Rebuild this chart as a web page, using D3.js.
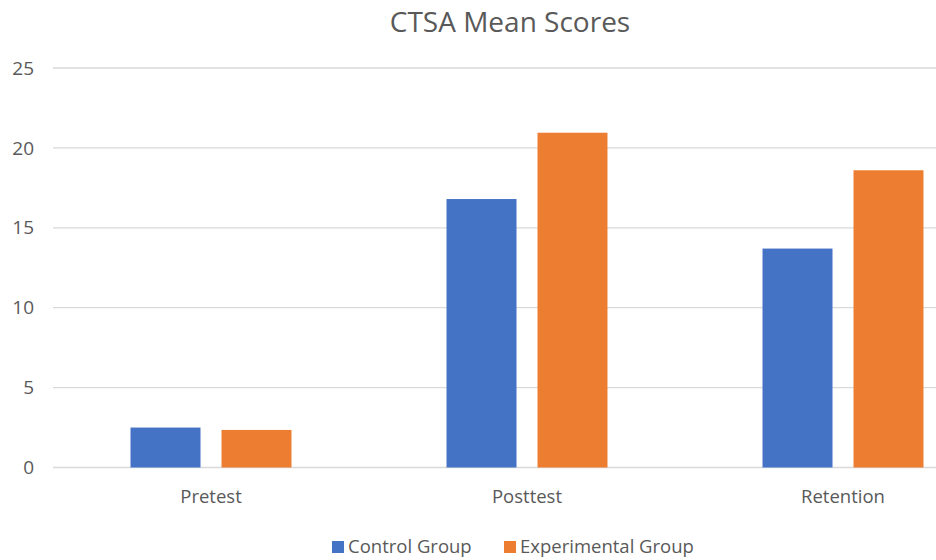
<!DOCTYPE html>
<html>
<head>
<meta charset="utf-8">
<script src="https://cdn.jsdelivr.net/npm/d3@7"></script>
<style>
  body { margin: 0; background: #fff; }
  text { font-family: "Open Sans", sans-serif; fill: #595959; }
</style>
</head>
<body>
<div id="chart-area"></div>
<script>
// chart data
let categories = ["Pretest", "Posttest", "Retention"];
let seriesNames = ["Control Group", "Experimental Group"];
let controlScores = [2.5, 16.8, 13.7];
let experimentalScores = [2.35, 20.95, 18.6];
let yTicks = [0, 5, 10, 15, 20, 25];
let colors = ["#4472C4", "#ED7D31"];

let width = 936,
    height = 560;

let rows = categories.map((c, i) => ({
  category: c,
  values: [
    { name: seriesNames[0], value: controlScores[i] },
    { name: seriesNames[1], value: experimentalScores[i] }
  ]
}));

let svg = d3.select('#chart-area').append('svg')
  .attr('width', width)
  .attr('height', height);

// plot area runs past the right edge of the picture
let x0 = d3.scaleBand()
  .domain(categories)
  .range([53, 1001])
  .padding(0);

let x1 = d3.scaleBand()
  .domain(seriesNames)
  .range([0, x0.bandwidth()])
  .paddingInner(21 / 91)
  .paddingOuter(0.852);

let y = d3.scaleLinear()
  .domain([0, 25])
  .range([467.5, 68]);

let color = d3.scaleOrdinal().domain(seriesNames).range(colors);

// gridlines
svg.append('g')
  .selectAll('line')
  .data(yTicks)
  .enter()
  .append('line')
  .attr('x1', 53)
  .attr('x2', 1001)
  .attr('y1', d => y(d))
  .attr('y2', d => y(d))
  .attr('stroke', '#d9d9d9')
  .attr('stroke-width', 1.3);

// y labels
svg.append('g')
  .selectAll('text')
  .data(yTicks)
  .enter()
  .append('text')
  .attr('x', 34)
  .attr('y', d => y(d))
  .attr('dy', '0.35em')
  .attr('text-anchor', 'end')
  .style('font-size', '19px')
  .text(d => d);

// bars
let groups = svg.append('g')
  .selectAll('g')
  .data(rows)
  .enter()
  .append('g')
  .attr('transform', d => `translate(${x0(d.category)},0)`);

groups.selectAll('rect')
  .data(d => d.values)
  .enter()
  .append('rect')
  .attr('x', d => x1(d.name))
  .attr('width', x1.bandwidth())
  .attr('y', d => y(d.value))
  .attr('height', d => y(0) - y(d.value))
  .attr('fill', d => color(d.name));

// category labels
svg.append('g')
  .selectAll('text')
  .data(categories)
  .enter()
  .append('text')
  .attr('x', d => x0(d) + x0.bandwidth() / 2)
  .attr('y', 503)
  .attr('text-anchor', 'middle')
  .style('font-size', '18.5px')
  .text(d => d);

// title
svg.append('text')
  .attr('x', 510)
  .attr('y', 32)
  .attr('text-anchor', 'middle')
  .style('font-size', '28px')
  .text("CTSA Mean Scores");

// legend
let legendX = [332, 504];
let legend = svg.append('g')
  .selectAll('g')
  .data(seriesNames)
  .enter()
  .append('g')
  .attr('transform', (d, i) => `translate(${legendX[i]},547)`);

legend.append('rect')
  .attr('x', 0)
  .attr('y', -6)
  .attr('width', 12)
  .attr('height', 12)
  .attr('fill', d => color(d));

legend.append('text')
  .attr('x', 16)
  .attr('y', 0)
  .attr('dy', '0.35em')
  .style('font-size', '18.5px')
  .text(d => d);
</script>
</body>
</html>
